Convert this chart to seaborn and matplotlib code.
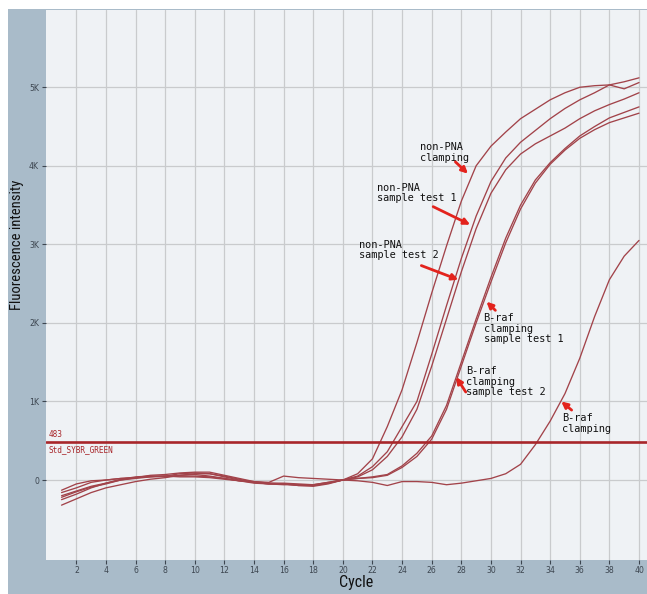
import matplotlib
matplotlib.use("Agg")
import matplotlib.pyplot as plt
from matplotlib import font_manager
from matplotlib.patches import Rectangle
import numpy as np
import pandas as pd
import seaborn as sns

# ---- amplification data (fluorescence per cycle) ----
cycles = list(range(1, 41))

non_pna_clamping = [
    -130, -50, -10, 0, 20, 30, 40, 50, 80, 90, 80, 40, 0, -30, -40, -40, -50, -60, -30, 0,
    80, 270, 680, 1150, 1750, 2380, 2980, 3550, 4000, 4250, 4430, 4600, 4720, 4840, 4930, 5000, 5020, 5030, 4980, 5060,
]
non_pna_test1 = [
    -200, -140, -80, -40, 10, 40, 50, 40, 60, 70, 50, 20, -10, -40, -50, -50, -60, -70, -40, 0,
    50, 170, 360, 680, 1000, 1600, 2220, 2820, 3360, 3800, 4100, 4300, 4450, 4600, 4730, 4840, 4930, 5030, 5070, 5120,
]
non_pna_test2 = [
    -250, -180, -100, -40, 0, 30, 60, 70, 90, 100, 100, 60, 20, -20, -40, -50, -70, -80, -50, 0,
    40, 130, 300, 550, 900, 1450, 2050, 2650, 3200, 3650, 3950, 4150, 4280, 4380, 4480, 4600, 4700, 4780, 4850, 4930,
]
braf_test1 = [
    -220, -150, -90, -50, 0, 20, 40, 50, 50, 50, 40, 20, -10, -30, -50, -60, -60, -60, -30, 0,
    20, 40, 70, 180, 340, 560, 950, 1500, 2050, 2580, 3080, 3500, 3820, 4040, 4220, 4380, 4500, 4610, 4680, 4750,
]
braf_test2 = [
    -320, -240, -160, -100, -60, -20, 10, 30, 60, 80, 80, 50, 10, -30, -50, -50, -70, -70, -40, 0,
    20, 30, 60, 160, 300, 520, 900, 1450, 2000, 2520, 3020, 3450, 3780, 4020, 4200, 4350, 4460, 4550, 4610, 4670,
]
braf_clamping = [
    -160, -100, -30, 0, 20, 30, 50, 50, 40, 40, 30, 10, -10, -20, -30, 50, 30, 20, 10, 0,
    -10, -30, -70, -20, -20, -30, -60, -40, -10, 20, 80, 200, 450, 750, 1100, 1550, 2080, 2550, 2850, 3050,
]

series = {
    "non-PNA clamping": non_pna_clamping,
    "non-PNA sample test 1": non_pna_test1,
    "non-PNA sample test 2": non_pna_test2,
    "B-raf clamping sample test 1": braf_test1,
    "B-raf clamping sample test 2": braf_test2,
    "B-raf clamping": braf_clamping,
}

threshold = 483
threshold_name = "Std_SYBR_GREEN"

x_ticks = list(range(2, 41, 2))
y_ticks = [0, 1000, 2000, 3000, 4000, 5000]
y_tick_labels = ["0", "1K", "2K", "3K", "4K", "5K"]

# annotation text, text anchor (cycle, fluorescence), arrow tail, arrow head
labels = [
    ("non-PNA\nclamping", (25.2, 4300), (27.6, 4050), (28.45, 3900)),
    ("non-PNA\nsample test 1", (22.3, 3780), (26.1, 3480), (28.6, 3250)),
    ("non-PNA\nsample test 2", (21.1, 3060), (25.3, 2730), (27.8, 2550)),
    ("B-raf\nclamping\nsample test 1", (29.5, 2120), (30.3, 2160), (29.7, 2270)),
    ("B-raf\nclamping\nsample test 2", (28.3, 1450), (28.3, 1120), (27.65, 1310)),
    ("B-raf\nclamping", (34.8, 850), (35.45, 890), (34.75, 1000)),
]

# ---- styling ----
panel_blue = "#a9bbc9"
plot_bg = "#eff2f5"
grid_col = "#c9cbcd"
curve_col = "#a2434a"
thresh_col = "#a8262a"
arrow_col = "#e3231d"

sns.set_theme(style="white")
available = {f.name for f in font_manager.fontManager.ttflist}
label_font = next((f for f in ["Liberation Sans Narrow", "Roboto Condensed",
                               "Open Sans Condensed", "Liberation Sans"] if f in available),
                  "DejaVu Sans")
plt.rcParams["font.family"] = ["DejaVu Sans"]

W, H = 647, 594
fig = plt.figure(figsize=(W / 100, H / 100), dpi=100, facecolor="white")
backdrop = Rectangle((8 / W, 0), 1, (H - 9) / H, transform=fig.transFigure,
                     facecolor=panel_blue, edgecolor="none", zorder=-10)
fig.patches.append(backdrop)

ax = fig.add_axes([46 / W, (H - 559.5) / H, (W - 46) / W, (559.5 - 9.5) / H])
ax.set_zorder(1)
ax.set_facecolor(plot_bg)

df = pd.DataFrame(
    [(name, c, v) for name, vals in series.items() for c, v in zip(cycles, vals)],
    columns=["sample", "cycle", "fluorescence"],
)
sns.lineplot(data=df, x="cycle", y="fluorescence", hue="sample",
             palette=[curve_col] * len(series), linewidth=0.95, legend=False,
             ax=ax, zorder=3)

ax.axhline(threshold, color=thresh_col, lw=1.9, zorder=4)
ax.text(0.1, threshold + 40, str(threshold), color=thresh_col, fontsize=5.6,
        family="DejaVu Sans Mono", ha="left", va="bottom", zorder=5)
ax.text(0.1, threshold - 45, threshold_name, color=thresh_col, fontsize=5.6,
        family="DejaVu Sans Mono", ha="left", va="top", zorder=5)

for text, txt_xy, tail, head in labels:
    ax.text(txt_xy[0], txt_xy[1], text, fontsize=7.4, family="DejaVu Sans Mono",
            color="#111111", ha="left", va="top", linespacing=1.05, zorder=6)
    ax.annotate("", xy=head, xytext=tail,
                arrowprops=dict(arrowstyle="-|>", color=arrow_col, lw=2.0,
                                mutation_scale=9, shrinkA=0, shrinkB=0),
                zorder=6)

ax.set_xlim(-0.05, 40.54)
ax.set_ylim(-1012, 5990)
ax.set_xticks(x_ticks)
ax.set_xticklabels([str(t) for t in x_ticks])
ax.set_yticks(y_ticks)
ax.set_yticklabels(y_tick_labels)
ax.tick_params(axis="both", which="both", labelsize=5.6, colors="#3d4650",
               length=3, width=0.8, direction="out", pad=2,
               bottom=True, left=True)
ax.grid(True, color=grid_col, lw=0.9, zorder=0)
ax.set_axisbelow(True)
for s in ax.spines.values():
    s.set_visible(False)

ax.set_xlabel("")
ax.set_ylabel("")
fig.text(356 / W, 1 - 583 / H, "Cycle", family=label_font, fontsize=11.5,
         color="#111111", ha="center", va="center")
fig.text(17 / W, 1 - 245 / H, "Fluorescence intensity", family=label_font,
         fontsize=10.5, color="#111111", ha="center", va="center", rotation=90)

fig.savefig("out.png", dpi=100, facecolor="white")
